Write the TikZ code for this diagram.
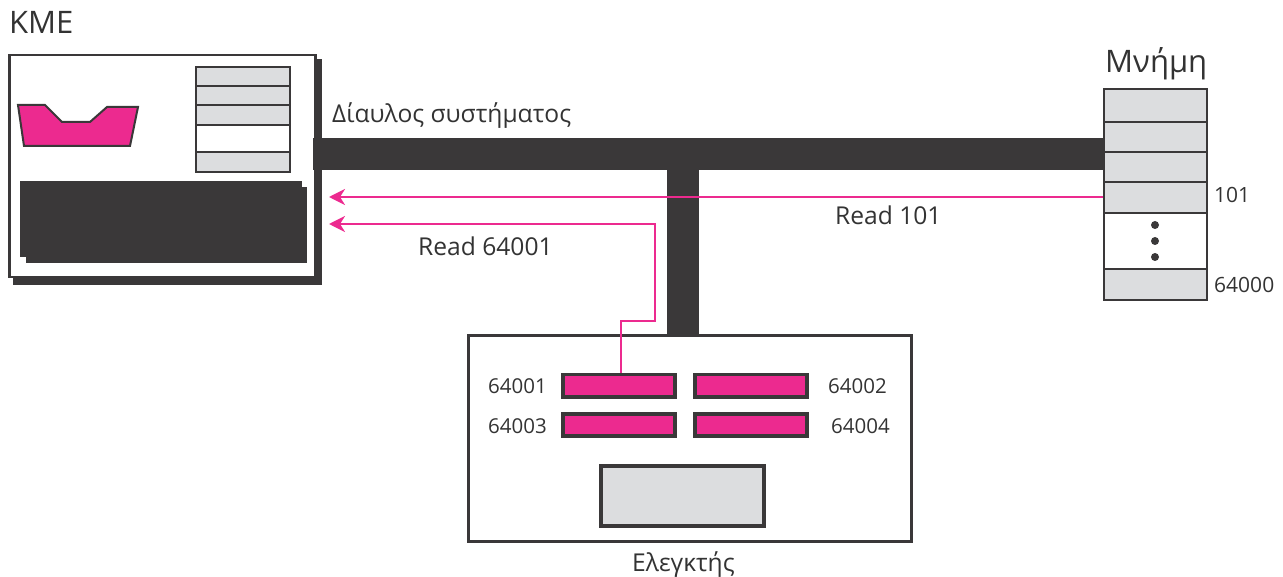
\documentclass[tikz,border=0pt]{standalone}
\usepackage{fontspec}
\setmainfont{Open Sans}
\usetikzlibrary{arrows.meta}
\definecolor{dk}{HTML}{3A3839}
\definecolor{pk}{HTML}{EC2A8F}
\definecolor{lg}{HTML}{DCDDDF}
\definecolor{tx}{HTML}{333333}
\begin{document}
\begin{tikzpicture}[x=1pt,y=-1pt,
  lbl/.style={anchor=base west,inner sep=0pt,text=tx},
  big/.style={lbl,font=\fontsize{31}{36}\selectfont},
  mid/.style={lbl,font=\fontsize{24.6}{28}\selectfont},
  sml/.style={lbl,font=\fontsize{20.5}{24}\selectfont},
  cell/.style={draw=dk,line width=2pt,fill=lg,inner sep=0pt,anchor=north west},
  wcell/.style={cell,fill=white},
  preg/.style={draw=dk,line width=3.5pt,fill=pk,inner sep=0pt,anchor=north west,minimum width=112pt,minimum height=22pt},
  bus/.style={draw=dk,line width=32pt},
  sig/.style={draw=pk,line width=2.5pt,-{Stealth[length=16pt,width=16pt,inset=5pt]}}
]
\useasboundingbox (0,0) rectangle (1283,577);
% CPU
\fill[dk] (13,59) rectangle (322,285);
\node[draw=dk,line width=2.5pt,fill=white,anchor=north west,inner sep=0pt,minimum width=306pt,minimum height=222pt] (cpu) at (8,54) {};
\draw[dk,line width=2pt,fill=pk] (18,105) -- (45,105) -- (62,122) -- (90,122) -- (107,107) -- (138,107) -- (130,146) -- (24,146) -- cycle;
\node[cell,minimum width=94pt,minimum height=19pt] (c1) at (195,66) {};
\node[cell,minimum width=94pt,minimum height=19pt] (c2) at (195,85) {};
\node[cell,minimum width=94pt,minimum height=20pt] (c3) at (195,104) {};
\node[wcell,minimum width=94pt,minimum height=27pt] (c4) at (195,124) {};
\node[cell,minimum width=94pt,minimum height=20pt] (c5) at (195,151) {};
\fill[dk] (26,187) rectangle (307,263);
\fill[dk] (20,181) rectangle (302,257);
\node[big] (kme) at (9,34) {KME};
% Memory
\node[cell,minimum width=103pt,minimum height=33pt] (m1) at (1103,88) {};
\node[cell,minimum width=103pt,minimum height=30pt] (m2) at (1103,121) {};
\node[cell,minimum width=103pt,minimum height=30pt] (m3) at (1103,151) {};
\node[cell,minimum width=103pt,minimum height=31pt] (m4) at (1103,181) {};
\node[wcell,minimum width=103pt,minimum height=56pt] (m5) at (1103,212) {};
\node[cell,minimum width=103pt,minimum height=31pt] (m6) at (1103,268) {};
\foreach \yy in {225,241,257} \fill[dk] (1155,\yy) circle (4pt);
\node[big] (mem) at (1105,73) {Μνήμη};
\node[sml,font=\fontsize{21}{24}\selectfont] (a101) at (1214,203) {101};
\node[sml,font=\fontsize{21}{24}\selectfont] (a64000) at (1214,293) {64000};
% Controller
\node[draw=dk,line width=3pt,fill=white,anchor=north west,inner sep=0pt,minimum width=443pt,minimum height=206pt] (ctrl) at (467,334) {};
\node[preg] (r1) at (561,373) {};
\node[preg] (r2) at (693,373) {};
\node[preg] (r3) at (561,412) {};
\node[preg] (r4) at (693,412) {};
\node[draw=dk,line width=3.5pt,fill=lg,anchor=north west,inner sep=0pt,minimum width=163pt,minimum height=60pt] (gbox) at (599,464) {};
\node[sml] (l1) at (488,393) {64001};
\node[sml] (l3) at (488,433) {64003};
\node[sml] (l2) at (828,393) {64002};
\node[sml] (l4) at (831,433) {64004};
\node[mid] (ctl) at (632,571) {Ελεγκτής};
% Bus
\coordinate (busL) at (313,154);
\coordinate (busT) at (683,154);
\draw[bus] (busL) -- (busL -| m3.west);
\draw[bus] (busT) -- (busT |- ctrl.north);
\node[mid] (busl) at (332,123) {Δίαυλος συστήματος};
% Signals
\coordinate (tipA) at (329,197);
\coordinate (tipB) at (329,224);
\draw[sig] (m4.west |- tipA) -- (tipA);
\draw[sig] (r1.north -| 621,0) -- (621,321) -- (655,321) -- (655,224) -- (tipB);
\node[mid] (rd101) at (835,225) {Read 101};
\node[mid] (rd64) at (418,256) {Read 64001};
\end{tikzpicture}
\end{document}
